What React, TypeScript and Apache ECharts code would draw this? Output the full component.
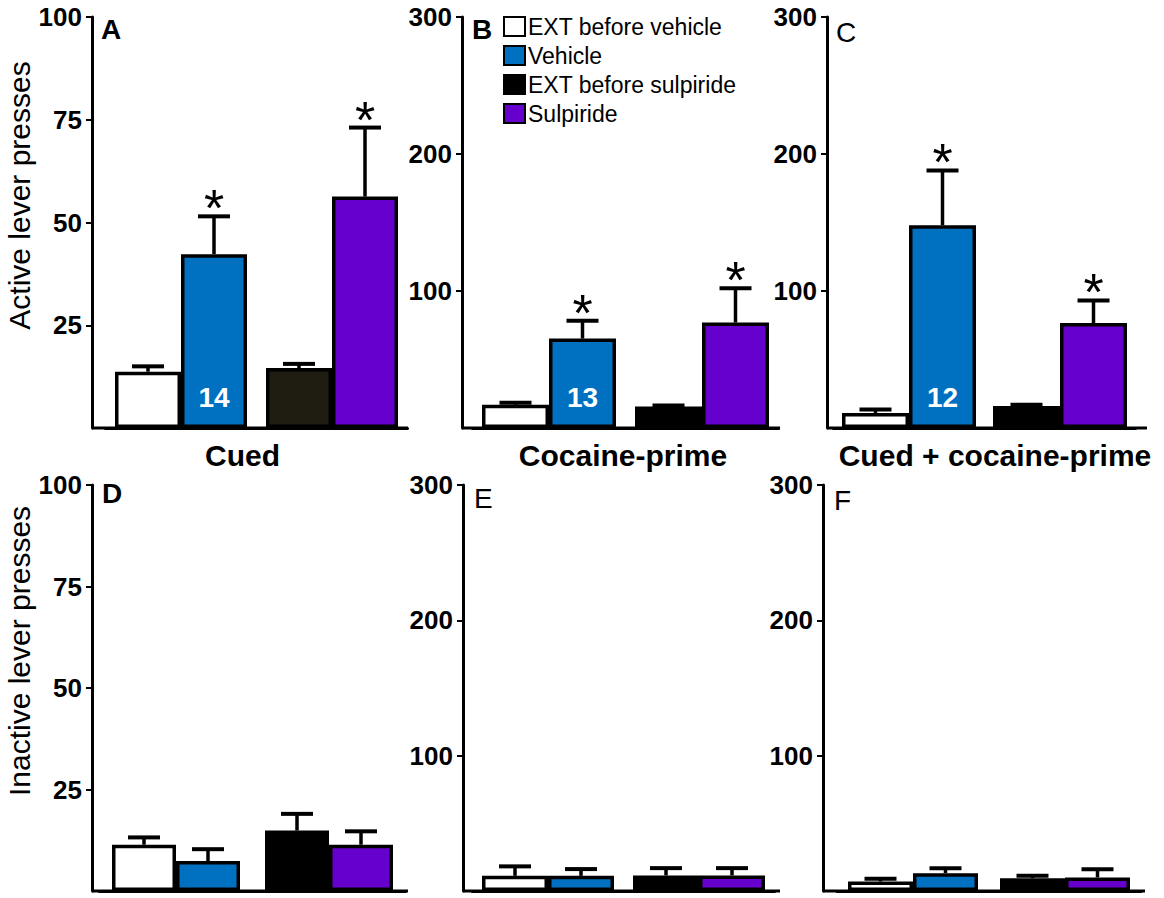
import React, { useEffect, useRef } from "react";
import * as echarts from "echarts";

const FONT = "Liberation Sans";

// Treatment groups, in bar order within every panel
const groups = ["EXT before vehicle", "Vehicle", "EXT before sulpiride", "Sulpiride"];
const groupColors = ["#ffffff", "#0070c0", "#000000", "#6600cc"];
// The cued panel fills its sulpiride-extinction bar with a brown-black
const cuedExtSulpirideColor = "#1f1c12";

const panelLetters = ["A", "B", "C", "D", "E", "F"];
const reinstatementTests = ["Cued", "Cocaine-prime", "Cued + cocaine-prime"];
const leverTitles = ["Active lever presses", "Inactive lever presses"];

// Tick labels
const cuedTicks = [25, 50, 75, 100];
const primeTicks = [100, 200, 300];

// Active lever presses (mean and SEM)
const activeCuedMean = [13.7, 42.3, 14.6, 56.3];
const activeCuedSem = [1.3, 9.2, 1.0, 16.8];
const activePrimeMean = [17, 65.3, 15.7, 77];
const activePrimeSem = [1.5, 13, 0.8, 25];
const activeComboMean = [11, 148, 16, 76.6];
const activeComboSem = [2.5, 40, 1, 16.5];

// Inactive lever presses (mean and SEM)
const inactiveCuedMean = [11.4, 7.4, 14.9, 11.4];
const inactiveCuedSem = [1.8, 2.9, 4.1, 3.3];
const inactivePrimeMean = [11.2, 11.2, 11.5, 11.5];
const inactivePrimeSem = [7, 5, 5.4, 5.4];
const inactiveComboMean = [7, 13.2, 9.5, 10];
const inactiveComboSem = [2, 3.7, 1.7, 6];

// Significance against the preceding extinction session
const activeSig = [false, true, false, true];
const inactiveSig = [false, false, false, false];

// Rats per reinstatement test
const ratsPerTest = [14, 13, 12];

// Per-panel geometry (pixels)
const panelLayout = [
  { axisX: 92, left: 105.5, width: 302, end: 408, barW: 66, top: 17, zeroY: 428, letterX: 101, letterY: 15, bold: true },
  { axisX: 462, left: 472.5, width: 306, end: 780, barW: 67, top: 17, zeroY: 428, letterX: 472, letterY: 15, bold: true },
  { axisX: 827, left: 833.5, width: 302, end: 1147, barW: 67, top: 17, zeroY: 428, letterX: 836, letterY: 18, bold: false },
  { axisX: 92, left: 99.5, width: 306, end: 408, barW: 64, top: 485, zeroY: 891, letterX: 102, letterY: 479, bold: true },
  { axisX: 463, left: 472.5, width: 302, end: 780, barW: 66, top: 485, zeroY: 891, letterX: 474, letterY: 484, bold: false },
  { axisX: 823, left: 837, width: 304, end: 1145, barW: 65, top: 485, zeroY: 891, letterX: 834, letterY: 486, bold: false },
];

const panelMeans = [activeCuedMean, activePrimeMean, activeComboMean, inactiveCuedMean, inactivePrimeMean, inactiveComboMean];
const panelSems = [activeCuedSem, activePrimeSem, activeComboSem, inactiveCuedSem, inactivePrimeSem, inactiveComboSem];
const nameShift = [[0, 28, 0, 0], [0, 5, 0, 0], [0, 0, 0, 21]];
const titleShift = [[0, 0, 0, 54], [0, 0, 0, 74]];

function buildOption() {
  const grid: any[] = [];
  const xAxis: any[] = [];
  const yAxis: any[] = [];
  const series: any[] = [];
  const graphic: any[] = [];

  panelLayout.forEach((p, i) => {
    const row = i < 3 ? 0 : 1;
    const col = i % 3;
    const ticks = col === 0 ? cuedTicks : primeTicks;
    const max = ticks[ticks.length - 1];
    const step = ticks[1] - ticks[0];
    const means = panelMeans[i];
    const sems = panelSems[i];
    const sig = row === 0 ? activeSig : inactiveSig;

    grid.push({ left: p.left, top: p.top, width: p.width, height: p.zeroY - p.top });

    xAxis.push({
      type: "category",
      gridIndex: i,
      data: ["Vehicle", "Sulpiride"],
      axisLine: { show: true, lineStyle: { color: "#000", width: 3 } },
      axisTick: { show: false },
      axisLabel: { show: false },
      splitLine: { show: false },
      name: row === 0 ? reinstatementTests[col] : "",
      nameLocation: "middle",
      nameGap: 12,
      nameTextStyle: {
        fontSize: 30,
        fontWeight: "bold",
        color: "#000",
        fontFamily: FONT,
        padding: nameShift[col],
      },
    });

    yAxis.push({
      type: "value",
      gridIndex: i,
      min: 0,
      max,
      interval: step,
      offset: p.left - p.axisX,
      axisLine: { show: true, lineStyle: { color: "#000", width: 3 } },
      axisTick: { show: true, length: 6, lineStyle: { color: "#000", width: 2 }, customValues: ticks },
      axisLabel: {
        customValues: ticks,
        fontSize: 26,
        fontWeight: "bold",
        color: "#000",
        fontFamily: FONT,
        margin: 10,
      },
      splitLine: { show: false },
      name: col === 0 ? leverTitles[row] : "",
      nameLocation: "middle",
      nameRotate: 90,
      nameGap: 52,
      nameTextStyle: { fontSize: 30, color: "#000", fontFamily: FONT, padding: titleShift[row] },
    });

    groups.forEach((g, k) => {
      const cat = k < 2 ? 0 : 1;
      let color = groupColors[k];
      if (i === 0 && k === 2) color = cuedExtSulpirideColor;
      series.push({
        name: g,
        type: "bar",
        xAxisIndex: i,
        yAxisIndex: i,
        stack: k % 2 === 0 ? "ext" + i : "trt" + i,
        barWidth: p.barW,
        barGap: "0%",
        data: cat === 0 ? [means[k], "-"] : ["-", means[k]],
        itemStyle: { color, borderColor: "#000", borderWidth: 3.5 },
        label:
          row === 0 && k === 1
            ? {
                show: true,
                position: "insideBottom",
                distance: 17,
                formatter: () => String(ratsPerTest[col]),
                color: "#fff",
                fontSize: 28,
                fontWeight: "bold",
                fontFamily: FONT,
              }
            : { show: false },
        emphasis: { disabled: true },
        z: 2,
      });
    });

    const bw = p.barW;
    series.push({
      type: "custom",
      xAxisIndex: i,
      yAxisIndex: i,
      z: 3,
      silent: true,
      data: groups.map((_, k) => [k < 2 ? 0 : 1, means[k], sems[k], k % 2, sig[k] ? 1 : 0]),
      encode: { x: 0, y: 1 },
      renderItem: (_params: any, api: any) => {
        const cat = api.value(0);
        const m = api.value(1);
        const s = api.value(2);
        const slot = api.value(3);
        const star = api.value(4);
        const base = api.coord([cat, m]);
        const top = api.coord([cat, m + s]);
        const x = base[0] + (slot === 0 ? -bw / 2 : bw / 2);
        const children: any[] = [
          { type: "line", shape: { x1: x, y1: base[1], x2: x, y2: top[1] }, style: { stroke: "#000", lineWidth: 3.5 } },
          { type: "line", shape: { x1: x - 16, y1: top[1], x2: x + 16, y2: top[1] }, style: { stroke: "#000", lineWidth: 4 } },
        ];
        if (star) {
          children.push({
            type: "text",
            x,
            y: top[1] - 8,
            style: {
              text: "*",
              fontSize: 52,
              fontFamily: FONT,
              fill: "#000",
              align: "center",
              verticalAlign: "middle",
            },
          });
        }
        return { type: "group", children };
      },
    });

    // Baseline from the y axis to the end of the panel
    graphic.push({
      type: "line",
      shape: { x1: p.axisX, y1: p.zeroY, x2: p.end, y2: p.zeroY },
      style: { stroke: "#000", lineWidth: 3 },
      z: 1,
    });
    graphic.push({
      type: "text",
      x: p.letterX,
      y: p.letterY,
      style: {
        text: panelLetters[i],
        fontSize: 28,
        fontWeight: p.bold ? "bold" : "normal",
        fontFamily: FONT,
        fill: "#000",
      },
    });
  });

  return {
    animation: false,
    backgroundColor: "#fff",
    textStyle: { fontFamily: FONT },
    grid,
    xAxis,
    yAxis,
    series,
    graphic,
    legend: {
      data: groups.map((g, k) => ({ name: g, itemStyle: { color: groupColors[k], borderColor: "#000", borderWidth: 2 } })),
      orient: "vertical",
      left: 503,
      top: 15,
      padding: 0,
      itemWidth: 21,
      itemHeight: 19,
      itemGap: 6,
      icon: "rect",
      selectedMode: false,
      textStyle: { fontSize: 23, color: "#000", fontFamily: FONT, padding: [0, 0, 0, -2] },
    },
  };
}

export default function App() {
  const ref = useRef<HTMLDivElement>(null);
  useEffect(() => {
    if (!ref.current) return;
    const chart = echarts.init(ref.current, undefined, { renderer: "svg" });
    chart.setOption(buildOption() as any);
    return () => chart.dispose();
  }, []);
  return <div ref={ref} style={{ position: "fixed", left: 0, top: 0, width: 1164, height: 898 }} />;
}
